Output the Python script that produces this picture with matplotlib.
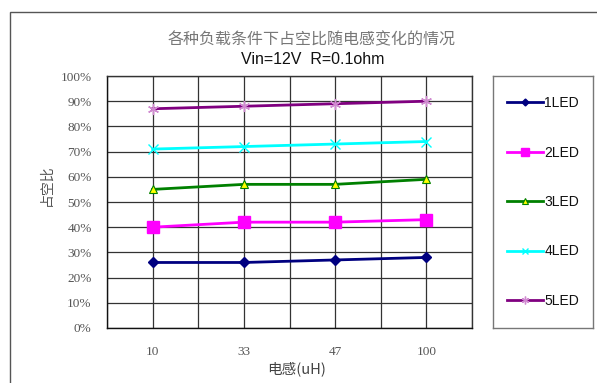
import matplotlib
matplotlib.use('Agg')
import matplotlib.pyplot as plt
from matplotlib.patches import Rectangle
from matplotlib.ticker import FuncFormatter, MultipleLocator

# data
inductance = ['10', '33', '47', '100']
led1 = [26, 26, 27, 28]
led2 = [40, 42, 42, 43]
led3 = [55, 57, 57, 59]
led4 = [71, 72, 73, 74]
led5 = [87, 88, 89, 90]
series_names = ['1LED', '2LED', '3LED', '4LED', '5LED']
yticks = list(range(0, 101, 10))

CJK = ['Noto Sans CJK SC', 'DejaVu Sans']

fig = plt.figure(figsize=(5.97, 3.83), dpi=100)
fig.patch.set_facecolor('white')

# outer chart border (only top and left visible in the crop)
fig.patches.append(Rectangle((10 / 597, -0.1), 1.2, (383 - 12) / 383 + 0.1,
                             transform=fig.transFigure, fill=False,
                             edgecolor='#555555', linewidth=1.0))

ax = fig.add_axes([107 / 597, 55 / 383, 365 / 597, 252 / 383])
x = list(range(len(inductance)))

styles = [
    dict(color='#000080', marker='D', markersize=5, markerfacecolor='#000080', markeredgecolor='#000080'),
    dict(color='#ff00ff', marker='s', markersize=8, markerfacecolor='#ff00ff', markeredgecolor='#ff00ff'),
    dict(color='#008000', marker='^', markersize=6, markerfacecolor='#ffff00', markeredgecolor='#008000', markeredgewidth=0.8),
    dict(color='#00ffff', marker='x', markersize=7, markeredgecolor='#00ffff', markeredgewidth=1.0),
    dict(color='#800080', marker=(6, 2, 0), markersize=8, markeredgecolor='#d08ad0', markeredgewidth=1.0),
]
handles = []
for vals, name, st in zip([led1, led2, led3, led4, led5], series_names, styles):
    h, = ax.plot(x, vals, linewidth=2.0, label=name, clip_on=False, zorder=3, **st)
    handles.append(h)

ax.set_xlim(-0.5, len(inductance) - 0.5)
ax.set_ylim(0, 100)
ax.xaxis.set_minor_locator(MultipleLocator(0.5))
ax.set_xticks(x)
ax.set_xticklabels(inductance)
ax.set_yticks(yticks)
ax.yaxis.set_major_formatter(FuncFormatter(lambda v, p: f'{int(v)}%'))
ax.grid(True, which='both', axis='x', color='#333333', linewidth=0.9)
ax.grid(True, which='major', axis='y', color='#333333', linewidth=0.9)
ax.set_axisbelow(True)
ax.tick_params(axis='both', which='both', length=0, labelsize=9.5, labelcolor='#555555')
ax.tick_params(axis='x', pad=13)
ax.tick_params(axis='y', pad=11)
for lab in ax.get_xticklabels() + ax.get_yticklabels():
    lab.set_family('Liberation Serif')
for sp in ax.spines.values():
    sp.set_color('#333333')
    sp.set_linewidth(1.0)
ax.spines['left'].set_color('#111111')
ax.spines['bottom'].set_color('#111111')

fig.text(312 / 597, 1 - 40 / 383, '各种负载条件下占空比随电感变化的情况', ha='center', va='center',
         fontsize=11.5, color='#777777', family=CJK)
fig.text(313 / 597, 1 - 60 / 383, 'Vin=12V  R=0.1ohm', ha='center', va='center',
         fontsize=11.5, color='#111111', family='Liberation Sans')
fig.text(47 / 597, 1 - 185 / 383, '占空比', ha='center', va='center', rotation=90,
         fontsize=10, color='#555555', family=CJK)
fig.text(297 / 597, 1 - 369 / 383, '电感(uH)', ha='center', va='center',
         fontsize=10.5, color='#444444', family=CJK)

# legend panel
lax = fig.add_axes([493 / 597, 55 / 383, 100 / 597, 252 / 383])
lax.set_xticks([])
lax.set_yticks([])
for sp in lax.spines.values():
    sp.set_color('#777777')
    sp.set_linewidth(1.0)
leg = lax.legend(handles=handles, loc='center', frameon=False, fontsize=10,
                 labelspacing=2.55, handlelength=2.6, handletextpad=0.1,
                 borderaxespad=0, markerscale=0.7)
for t in leg.get_texts():
    t.set_family('Liberation Sans')
    t.set_color('#111111')

fig.savefig('out.png', dpi=100)
